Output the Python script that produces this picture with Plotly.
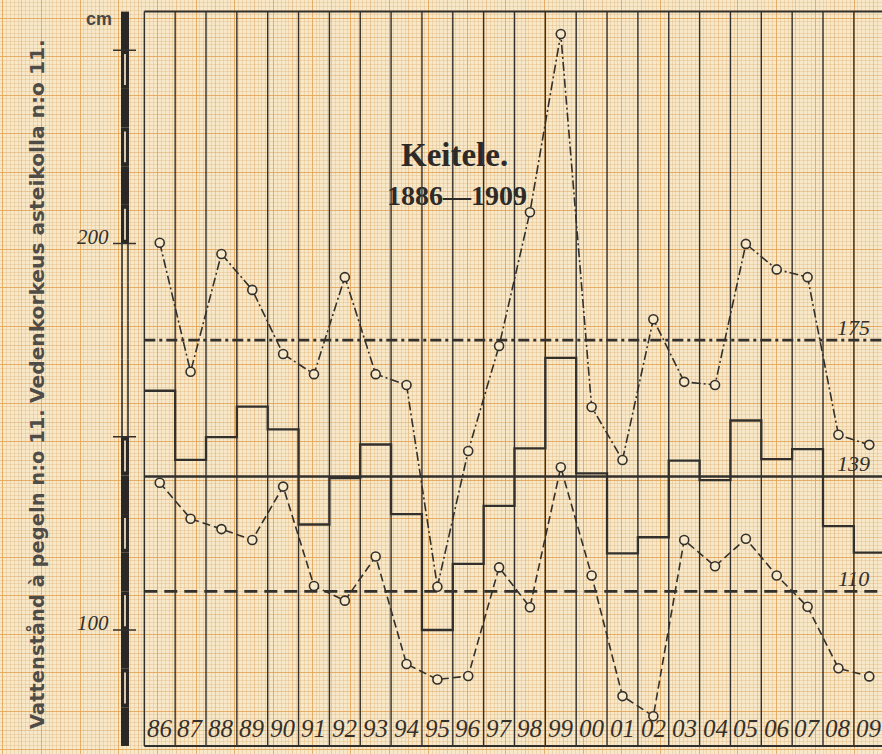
import plotly.graph_objects as go

# ---------------- data ----------------
years = ["86", "87", "88", "89", "90", "91", "92", "93", "94", "95", "96", "97",
         "98", "99", "00", "01", "02", "03", "04", "05", "06", "07", "08", "09"]

max_level = [200.2, 166.8, 197.3, 188.0, 171.4, 166.2, 191.3, 166.2, 163.4, 111.2, 146.3, 173.5,
             208.1, 254.2, 157.7, 144.0, 180.4, 164.2, 163.4, 199.9, 193.3, 191.3, 150.5, 147.9]

min_level = [138.1, 128.8, 126.1, 123.3, 137.1, 111.4, 107.6, 119.0, 91.2, 87.2, 88.1, 116.2,
             105.9, 142.1, 114.1, 82.9, 77.7, 123.3, 116.5, 123.6, 114.1, 106.0, 90.1, 88.0]

mean_level = [161.9, 144.0, 149.9, 157.8, 151.9, 127.3, 139.3, 148.0, 130.0, 100.0, 117.1, 132.1,
              147.0, 170.4, 140.5, 119.8, 124.0, 143.8, 138.8, 154.2, 144.2, 146.8, 126.9, 120.0]

ref_levels = [175, 139.7, 110]
ref_labels = ["175", "139", "110"]
ref_dash = ["11px,4px,3px,4px", "solid", "13px,7px"]

y_ticks = [250, 200, 150, 100]
y_tick_labels = {200: "200", 100: "100"}

# ---------------- styling ----------------
W, H = 882, 754
BG = "#f6e8c9"
FINE = "rgba(222,170,105,0.30)"
MED = "rgba(214,158,92,0.45)"
ORANGE = "rgba(228,162,80,0.70)"
INK = "#33302c"

# pixel -> data geometry
X0_PX, COL_PX = 144.3, 30.85
Y200_PX, CM_PX = 243.5, 3.865
x_lo = -X0_PX / COL_PX
x_hi = (W - X0_PX) / COL_PX
y_top = 200 + Y200_PX / CM_PX
y_bot = 200 - (H - Y200_PX) / CM_PX
FRAME_LO, FRAME_HI = 70, 260

n = len(years)
xc = [i + 0.5 for i in range(n)]

fig = go.Figure()

# dummy traces to create the paper-grid subplots
fig.add_trace(go.Scatter(x=[0], y=[0], mode="markers", marker=dict(opacity=0),
                         hoverinfo="skip", showlegend=False, xaxis="x", yaxis="y"))
fig.add_trace(go.Scatter(x=[0], y=[0], mode="markers", marker=dict(opacity=0),
                         hoverinfo="skip", showlegend=False, xaxis="x2", yaxis="y2"))

# column lines + frame
cx, cy = [], []
for b in range(0, n + 1):
    cx += [b, b, None]
    cy += [FRAME_LO, FRAME_HI, None]
fig.add_trace(go.Scatter(x=cx, y=cy, mode="lines", line=dict(color=INK, width=1.4),
                         hoverinfo="skip", showlegend=False, xaxis="x3", yaxis="y3"))
fig.add_trace(go.Scatter(x=[0, n + 1, None, 0, n + 1], y=[FRAME_HI, FRAME_HI, None, FRAME_LO, FRAME_LO],
                         mode="lines", line=dict(color=INK, width=2),
                         hoverinfo="skip", showlegend=False, xaxis="x3", yaxis="y3"))

# reference lines
for lvl, dash in zip(ref_levels, ref_dash):
    fig.add_trace(go.Scatter(x=[0, n + 1], y=[lvl, lvl], mode="lines",
                             line=dict(color=INK, width=2.6, dash=dash),
                             hoverinfo="skip", showlegend=False, xaxis="x3", yaxis="y3"))

# annual mean as steps
fig.add_trace(go.Scatter(x=list(range(n)) + [n], y=mean_level + [mean_level[-1]],
                         mode="lines", line=dict(color=INK, width=2.3, shape="hv"),
                         showlegend=False, xaxis="x3", yaxis="y3"))

# max and min series
fig.add_trace(go.Scatter(x=xc, y=max_level, mode="lines+markers",
                         line=dict(color=INK, width=1.6, dash="9px,3px,2px,3px"),
                         marker=dict(symbol="circle", size=9, color=BG, line=dict(color=INK, width=1.6)),
                         showlegend=False, xaxis="x3", yaxis="y3"))
fig.add_trace(go.Scatter(x=xc, y=min_level, mode="lines+markers",
                         line=dict(color=INK, width=1.6, dash="8px,4px"),
                         marker=dict(symbol="circle", size=9, color=BG, line=dict(color=INK, width=1.6)),
                         showlegend=False, xaxis="x3", yaxis="y3"))

annotations = []
# year labels
for x, lab in zip(xc, years):
    annotations.append(dict(x=x, y=74.4, xref="x3", yref="y3", text="<i>%s</i>" % lab,
                            showarrow=False, font=dict(family="Liberation Serif", size=25, color=INK)))
# reference labels
for lvl, lab in zip(ref_levels, ref_labels):
    annotations.append(dict(x=22.99, y=lvl + 3.3, xref="x3", yref="y3", text="<i>%s</i>" % lab,
                            showarrow=False, font=dict(family="Liberation Serif", size=22, color=INK)))
# title
annotations.append(dict(x=10.04, y=222.9, xref="x3", yref="y3", text="<b>Keitele.</b>",
                        showarrow=False, font=dict(family="Liberation Serif", size=33, color="#2d2a27")))
annotations.append(dict(x=10.12, y=212.4, xref="x3", yref="y3", text="<b>1886—1909</b>",
                        showarrow=False, font=dict(family="Liberation Serif", size=28, color="#2d2a27")))
# axis labels on the gauge bar
for v, lab in y_tick_labels.items():
    annotations.append(dict(x=111, y=v + 1.8, xref="x", yref="y3", text="<i>%s</i>" % lab,
                            xanchor="right", showarrow=False,
                            font=dict(family="Liberation Serif", size=21, color=INK)))
annotations.append(dict(x=99, y=258.0, xref="x", yref="y3", text="<b>cm</b>", showarrow=False,
                        font=dict(family="Liberation Sans", size=18, color="#4a4744")))
# rotated side titles
annotations.append(dict(x=37, y=569, xref="x", yref="y", text="<b>Vattenstånd à pegeln n:o 11.</b>",
                        textangle=-90, showarrow=False,
                        font=dict(family="DejaVu Sans", size=19.5, color="#4f4c48")))
annotations.append(dict(x=37, y=221, xref="x", yref="y", text="<b>Vedenkorkeus asteikolla n:o 11.</b>",
                        textangle=-90, showarrow=False,
                        font=dict(family="DejaVu Sans", size=20.2, color="#4f4c48")))

# gauge bar decoration
shapes = []
BAR_L, BAR_R = 121, 129
for lo in range(FRAME_LO, FRAME_HI, 10):
    hi = lo + 10
    if 150 <= lo < 200:
        shapes.append(dict(type="line", xref="x", yref="y3", x0=BAR_L + 1, x1=BAR_L + 1, y0=lo, y1=hi,
                           line=dict(color=INK, width=1.6)))
        shapes.append(dict(type="line", xref="x", yref="y3", x0=BAR_R - 1, x1=BAR_R - 1, y0=lo, y1=hi,
                           line=dict(color=INK, width=1.6)))
    else:
        shapes.append(dict(type="rect", xref="x", yref="y3", x0=BAR_L, x1=BAR_R, y0=lo, y1=hi,
                           fillcolor="#2a2724", line=dict(width=0)))
        if (lo // 10) % 2 == 0:
            shapes.append(dict(type="line", xref="x", yref="y3", x0=(BAR_L + BAR_R) / 2,
                               x1=(BAR_L + BAR_R) / 2, y0=lo + 1, y1=hi - 1,
                               line=dict(color="#e9dcc0", width=1.8)))
for v in y_ticks:
    shapes.append(dict(type="line", xref="x", yref="y3", x0=113, x1=136, y0=v, y1=v,
                       line=dict(color=INK, width=1.5)))

fig.update_layout(
    width=W, height=H, margin=dict(l=0, r=0, t=0, b=0),
    paper_bgcolor=BG, plot_bgcolor=BG,
    showlegend=False, hovermode=False,
    xaxis=dict(domain=[0, 1], range=[0, W], showgrid=True, dtick=19.35, tick0=80,
               gridcolor=MED, gridwidth=1,
               minor=dict(dtick=3.87, tick0=80, showgrid=True, gridcolor=FINE, gridwidth=0.6),
               showticklabels=False, zeroline=False, ticks="", fixedrange=True),
    yaxis=dict(domain=[0, 1], range=[H, 0], showgrid=True, dtick=19.25, tick0=95,
               gridcolor=MED, gridwidth=1,
               minor=dict(dtick=3.85, tick0=95, showgrid=True, gridcolor=FINE, gridwidth=0.6),
               showticklabels=False, zeroline=False, ticks="", fixedrange=True),
    xaxis2=dict(overlaying="x", anchor="y2", range=[0, W], showgrid=True, dtick=38.7, tick0=80,
                gridcolor=ORANGE, gridwidth=1.3, showticklabels=False, zeroline=False, ticks=""),
    yaxis2=dict(overlaying="y", anchor="x2", range=[H, 0], showgrid=True, dtick=38.5, tick0=95,
                gridcolor=ORANGE, gridwidth=1.3, showticklabels=False, zeroline=False, ticks=""),
    xaxis3=dict(overlaying="x", anchor="y3", range=[x_lo, x_hi], showgrid=False,
                showticklabels=False, zeroline=False, ticks=""),
    yaxis3=dict(overlaying="y", anchor="x3", range=[y_bot, y_top], showgrid=False,
                showticklabels=False, zeroline=False, ticks=""),
    annotations=annotations,
    shapes=shapes,
)

# remove the default 8px page margin so the figure sits at the window's top-left corner
fig.write_html("out.html", config={"displayModeBar": False},
               post_script="document.body.style.margin='0';")
